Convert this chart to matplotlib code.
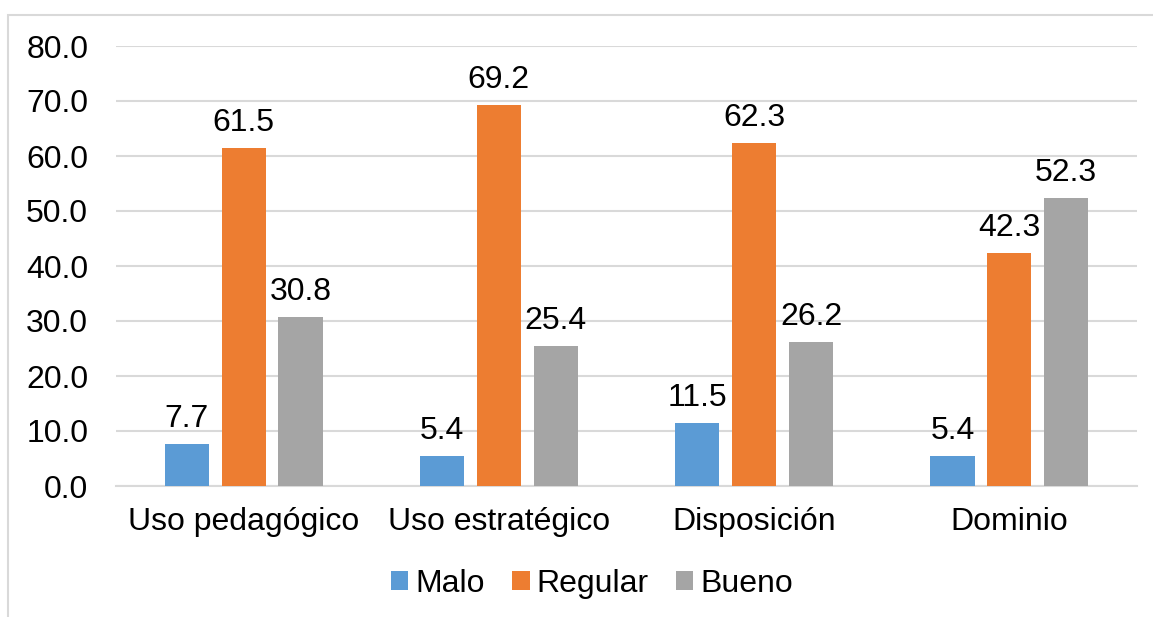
import matplotlib.pyplot as plt
import numpy as np
from matplotlib.patches import Rectangle

categories = ["Uso pedagógico", "Uso estratégico", "Disposición", "Dominio"]
series_names = ["Malo", "Regular", "Bueno"]
malo = [7.7, 5.4, 11.5, 5.4]
regular = [61.5, 69.2, 62.3, 42.3]
bueno = [30.8, 25.4, 26.2, 52.3]
yticks = [0, 10, 20, 30, 40, 50, 60, 70, 80]

colors = ["#5B9BD5", "#ED7D31", "#A5A5A5"]
plt.rcParams['font.family'] = ['Liberation Sans', 'DejaVu Sans']
FS = 23

fig = plt.figure(figsize=(11.53, 6.17), dpi=100)
fig.patch.set_facecolor("white")

# outer chart frame (partially visible)
fig.add_artist(Rectangle((8 / 1153, -0.05), 1.2, 1 - 15 / 617 + 0.05,
                         transform=fig.transFigure, fill=False,
                         edgecolor="#D9D9D9", linewidth=1.5))

ax = fig.add_axes([116 / 1153, 1 - 486 / 617, (1137 - 116) / 1153, (486 - 46) / 617])
x = np.arange(len(categories))
width = 0.173
step = 0.223
for i, (vals, name) in enumerate(zip([malo, regular, bueno], series_names)):
    pos = x + (i - 1) * step
    ax.bar(pos, vals, width, color=colors[i], label=name, zorder=3)
    for p, v in zip(pos, vals):
        ax.text(p, v + 1.8, f"{v:.1f}", ha="center", va="bottom", fontsize=FS, color="black")

ax.set_xlim(-0.5, len(categories) - 0.5)
ax.set_ylim(0, 80)
ax.set_yticks(yticks)
ax.set_yticklabels([f"{t:.1f}" for t in yticks], fontsize=FS)
ax.set_xticks(x)
ax.set_xticklabels(categories, fontsize=FS)
ax.tick_params(axis="both", length=0, colors="black")
ax.tick_params(axis="y", pad=20)
ax.tick_params(axis="x", pad=15)
ax.grid(axis="y", color="#D9D9D9", linewidth=1.5, zorder=0)
for s in ["top", "right", "left"]:
    ax.spines[s].set_visible(False)
ax.spines["bottom"].set_color("#D9D9D9")
ax.spines["bottom"].set_linewidth(1.5)

fig.legend(loc="center", bbox_to_anchor=(592 / 1153, 1 - 584 / 617), ncol=3,
           frameon=False, fontsize=FS, handlelength=0.55, handleheight=0.55,
           handletextpad=0.22, columnspacing=0.85)

fig.savefig("out.png", dpi=100, facecolor="white")
